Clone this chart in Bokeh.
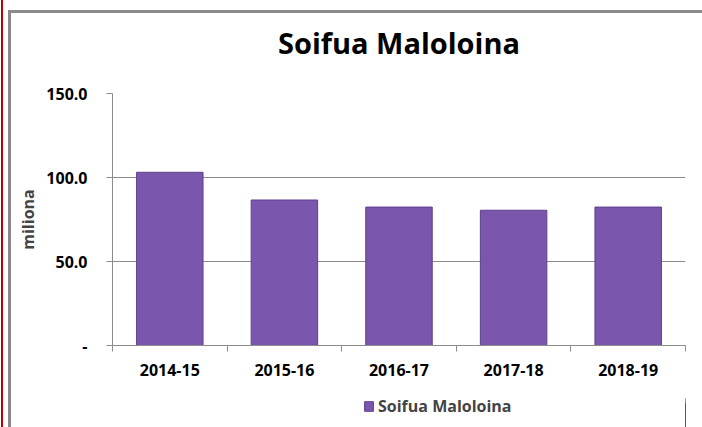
from bokeh.plotting import figure
from bokeh.layouts import column
from bokeh.models import ColumnDataSource, FixedTicker, Legend, LegendItem, Title
from bokeh.embed import file_html
from bokeh.resources import INLINE

title = "Soifua Maloloina"
series_name = "Soifua Maloloina"
categories = ["2014-15", "2015-16", "2016-17", "2017-18", "2018-19"]
values = [103.1, 86.6, 82.4, 80.5, 82.4]
y_ticks = [0, 50, 100, 150]
y_tick_labels = ["-", "50.0", "100.0", "150.0"]
y_axis_title = "miliona"

FONT = "Open Sans"
GRAY = "#8c8c8c"
BAR_FILL = "#7a57ad"
BAR_LINE = "#5e3f8c"

xs = [i + 0.5 for i in range(len(categories))]
src = ColumnDataSource(dict(x=xs, top=values, cat=categories))

p = figure(frame_width=573, frame_height=252,
           output_backend="svg", toolbar_location=None,
           x_range=(0, len(categories)), y_range=(0, 150), title=None,
           min_border_left=101, min_border_right=17, min_border_top=80,
           min_border_bottom=40)

# spacer (inner) and main title (outer)
p.add_layout(Title(text=" ", text_font_size="1px", standoff=24), "above")
p.add_layout(Title(text=title, align="center", text_font=FONT, text_font_style="bold",
                   text_font_size="29px", text_color="#000000", standoff=10), "above")

p.outline_line_color = None
p.background_fill_color = "#ffffff"
p.border_fill_color = "#ffffff"

r = p.vbar(x="x", top="top", width=0.58, source=src,
           fill_color=BAR_FILL, line_color=BAR_LINE, line_width=1)

# y axis
p.yaxis.ticker = FixedTicker(ticks=y_ticks)
p.yaxis.major_label_overrides = {t: l for t, l in zip(y_ticks, y_tick_labels)}
p.yaxis.axis_label = y_axis_title
p.yaxis.axis_label_text_font = FONT
p.yaxis.axis_label_text_font_style = "bold"
p.yaxis.axis_label_text_font_size = "16px"
p.yaxis.axis_label_standoff = 4
p.yaxis.major_label_text_font = FONT
p.yaxis.major_label_text_font_style = "bold"
p.yaxis.major_label_text_font_size = "16px"
p.yaxis.major_label_text_color = "#000000"
p.yaxis.major_tick_out = 6
p.yaxis.major_tick_in = 0
p.yaxis.minor_tick_line_color = None
p.yaxis.major_label_standoff = 19
p.yaxis.axis_line_color = GRAY
p.yaxis.major_tick_line_color = GRAY

# x axis: labels at centres, tick marks at boundaries
p.xaxis.ticker = FixedTicker(ticks=xs, minor_ticks=list(range(len(categories) + 1)))
p.xaxis.major_label_overrides = {x: c for x, c in zip(xs, categories)}
p.xaxis.major_label_text_font = FONT
p.xaxis.major_label_text_font_style = "bold"
p.xaxis.major_label_text_font_size = "16px"
p.xaxis.major_label_text_color = "#000000"
p.xaxis.major_tick_line_color = None
p.xaxis.major_tick_out = 0
p.xaxis.major_tick_in = 0
p.xaxis.minor_tick_out = 6
p.xaxis.minor_tick_in = 0
p.xaxis.minor_tick_line_color = GRAY
p.xaxis.axis_line_color = GRAY
p.xaxis.major_label_standoff = 12
p.xaxis.axis_label_standoff = 0

p.xgrid.grid_line_color = None
p.ygrid.ticker = FixedTicker(ticks=y_ticks)
p.ygrid.grid_line_color = GRAY
p.ygrid.grid_line_width = 1

# legend strip below the chart (its own small figure, same series style)
pl = figure(width=691, height=42, output_backend="svg", toolbar_location=None,
            x_range=(-10, -9), y_range=(0, 150), title=None,
            x_axis_location=None, y_axis_location=None, min_border=0)
pl.outline_line_color = None
pl.background_fill_color = "#ffffff"
pl.border_fill_color = "#ffffff"
pl.xgrid.visible = False
pl.ygrid.visible = False
rl = pl.vbar(x="x", top="top", width=0.58, source=src,
             fill_color=BAR_FILL, line_color=BAR_LINE, line_width=1)

legend = Legend(items=[LegendItem(label=series_name, renderers=[rl])],
                location=(251, 10), orientation="horizontal",
                padding=0, margin=0, border_line_color=None,
                background_fill_alpha=0, glyph_width=11, glyph_height=12,
                label_standoff=4, label_text_font=FONT,
                label_text_font_style="bold", label_text_font_size="16px",
                label_height=14)
pl.add_layout(legend, "center")

layout = column(p, pl, spacing=0)
layout.styles = {"border-top": "3px solid #8a8a8a", "border-left": "3px solid #8a8a8a",
                 "margin-top": "10px", "margin-left": "8px",
                 "box-shadow": "-5px -10px 0 0 #ffffff, -5px 0 0 0 #ffffff, "
                               "-7px -10px 0 0 #c00000, -7px 0 0 0 #c00000"}

open("out.html", "w").write(file_html(layout, INLINE))
